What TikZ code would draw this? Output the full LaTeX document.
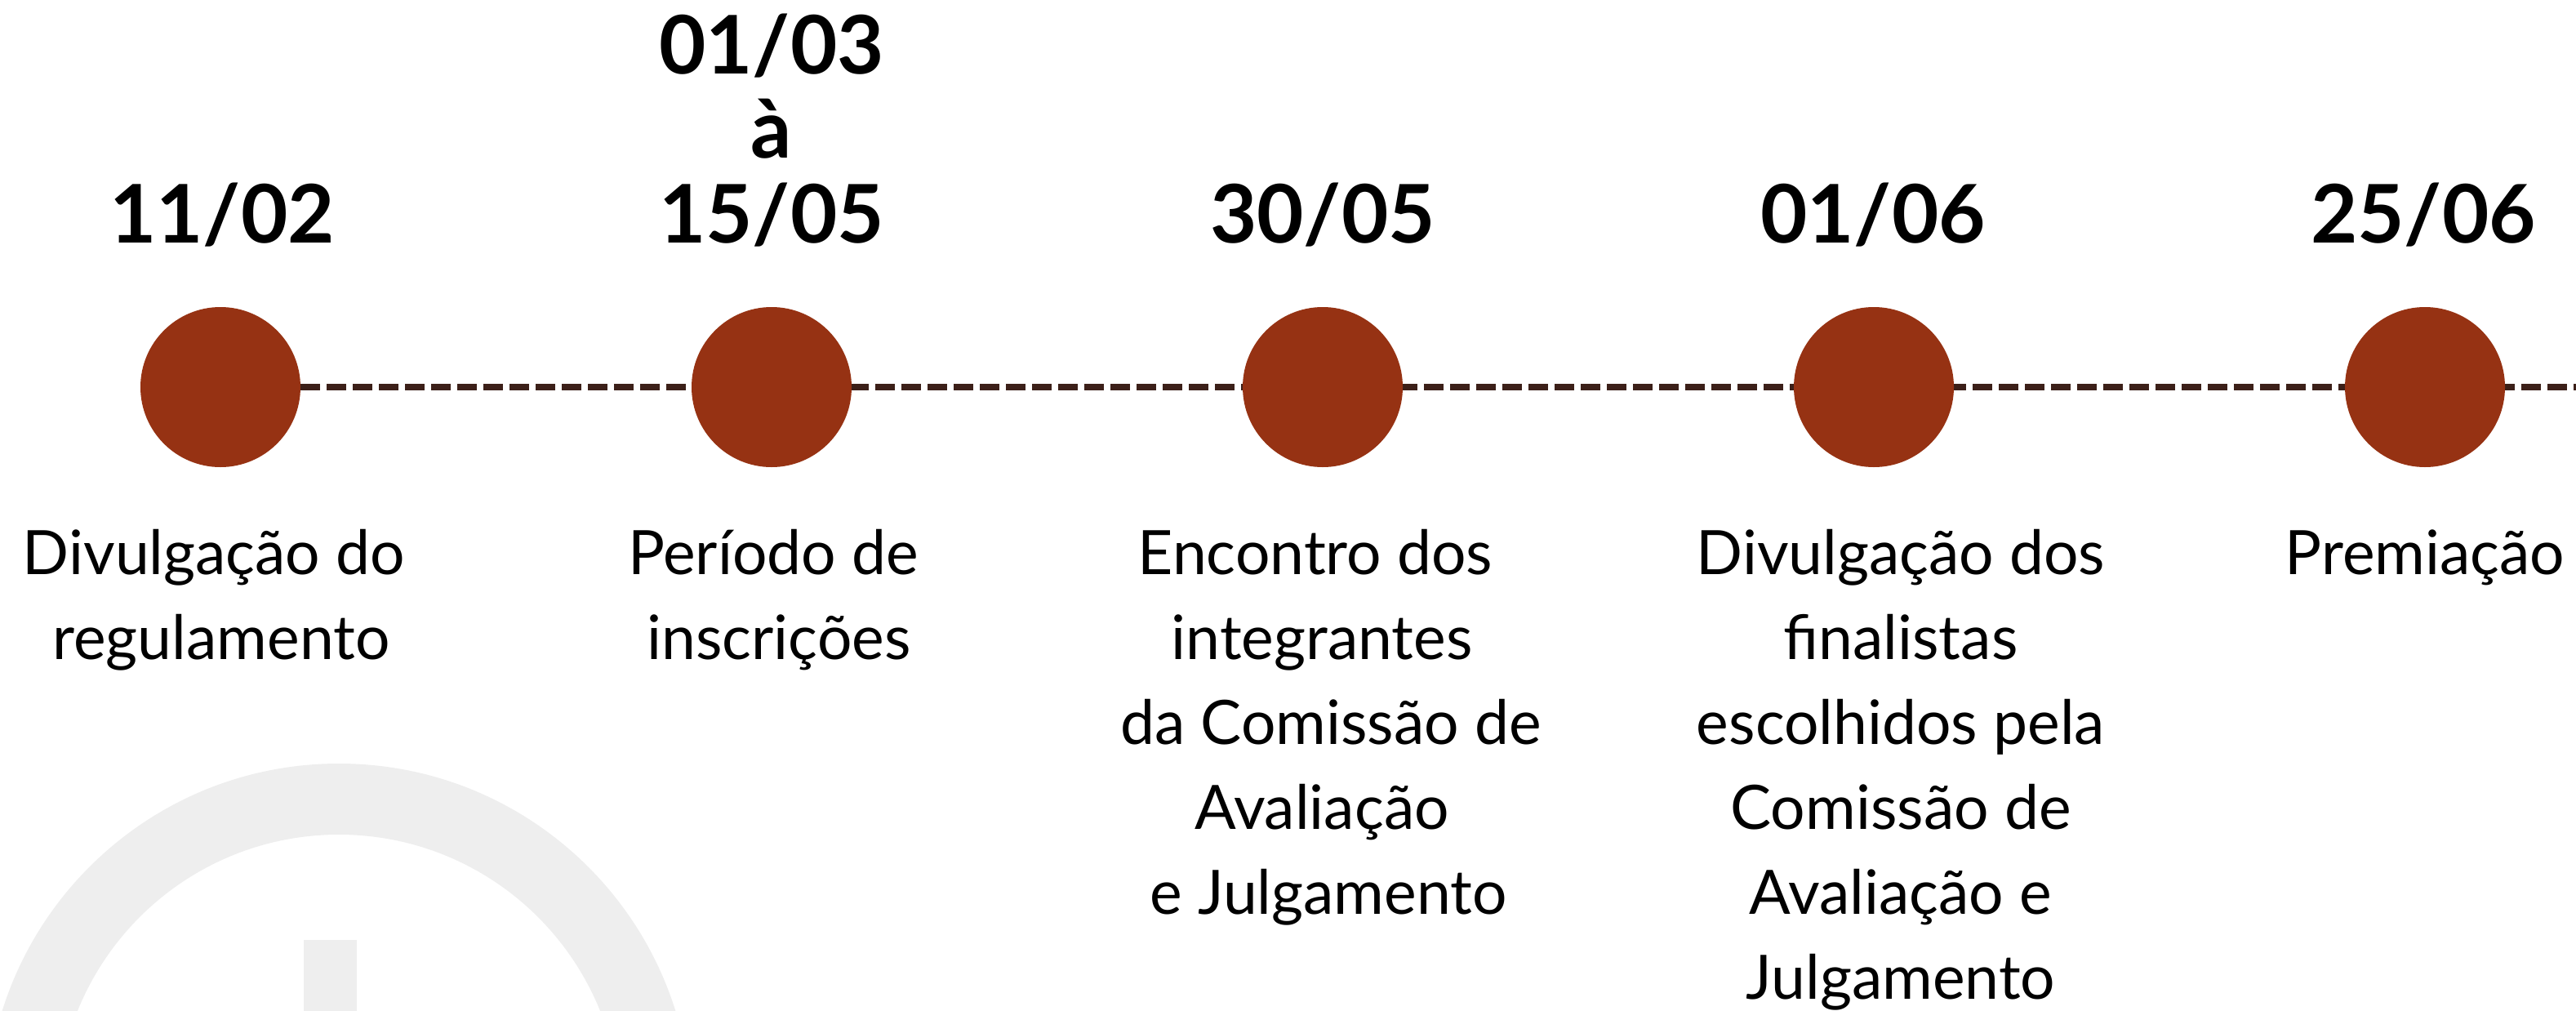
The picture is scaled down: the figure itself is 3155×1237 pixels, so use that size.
\documentclass[tikz,border=0pt]{standalone}
\usepackage{fontspec}
\setmainfont{Lato}
\usetikzlibrary{backgrounds}
\definecolor{rust}{RGB}{150,50,19}
\definecolor{dashbrown}{RGB}{60,32,25}
\definecolor{ghost}{RGB}{238,238,238}
\tikzset{
  milestone/.style={circle, fill=rust, minimum size=196pt, inner sep=0pt},
  datelbl/.style={anchor=base, inner sep=0pt, font=\fontsize{99}{104}\selectfont\bfseries},
  desclbl/.style={anchor=base, inner sep=0pt, font=\fontsize{75}{104}\selectfont},
  timeline/.style={draw=dashbrown, line width=8pt, dash pattern=on 24pt off 8pt}
}
\begin{document}
\begin{tikzpicture}[x=1pt,y=-1pt]
\useasboundingbox (0,0) rectangle (3155,1237);
% faint background icon
\begin{scope}
  \clip (0,0) rectangle (3155,1237);
  \fill[ghost, even odd rule] (415,1367) circle[radius=432pt] (415,1367) circle[radius=345pt];
  \fill[ghost] (372,1151) rectangle (437,1245);
\end{scope}
% milestones
\node[milestone] (c1) at (270,474) {};
\node[milestone] (c2) at (945,474) {};
\node[milestone] (c3) at (1620,474) {};
\node[milestone] (c4) at (2295,474) {};
\node[milestone] (c5) at (2970,474) {};
\coordinate (rightend) at (3160,474);
\begin{scope}[on background layer]
  \draw[timeline] (c1.east) -- (rightend);
\end{scope}
% dates
\node[datelbl] (t1) at (272,297) {11/02};
\node[datelbl] (t2a) at (945,90) {01/03};
\node[datelbl] (t2b) at (945,193) {à};
\node[datelbl] (t2c) at (945,297) {15/05};
\node[datelbl] (t3) at (1620,297) {30/05};
\node[datelbl] (t4) at (2294,297) {01/06};
\node[datelbl] (t5) at (2968,297) {25/06};
% descriptions
\node[desclbl] (d1a) at (262,703) {Divulgação do};
\node[desclbl] (d1b) at (271,807) {regulamento};
\node[desclbl] (d2a) at (947,703) {Período de};
\node[desclbl] (d2b) at (954,807) {inscrições};
\node[desclbl] (d3a) at (1611,703) {Encontro dos};
\node[desclbl] (d3b) at (1619,807) {integrantes};
\node[desclbl] (d3c) at (1630,911) {da Comissão de};
\node[desclbl] (d3d) at (1619,1015) {Avaliação};
\node[desclbl] (d3e) at (1627,1119) {e Julgamento};
\node[desclbl] (d4a) at (2328,703) {Divulgação dos};
\node[desclbl] (d4b) at (2328,807) {finalistas};
\node[desclbl] (d4c) at (2328,911) {escolhidos pela};
\node[desclbl] (d4d) at (2328,1015) {Comissão de};
\node[desclbl] (d4e) at (2328,1119) {Avaliação e};
\node[desclbl] (d4f) at (2328,1223) {Julgamento};
\node[desclbl] (d5a) at (2970,703) {Premiação};
\end{tikzpicture}
\end{document}
